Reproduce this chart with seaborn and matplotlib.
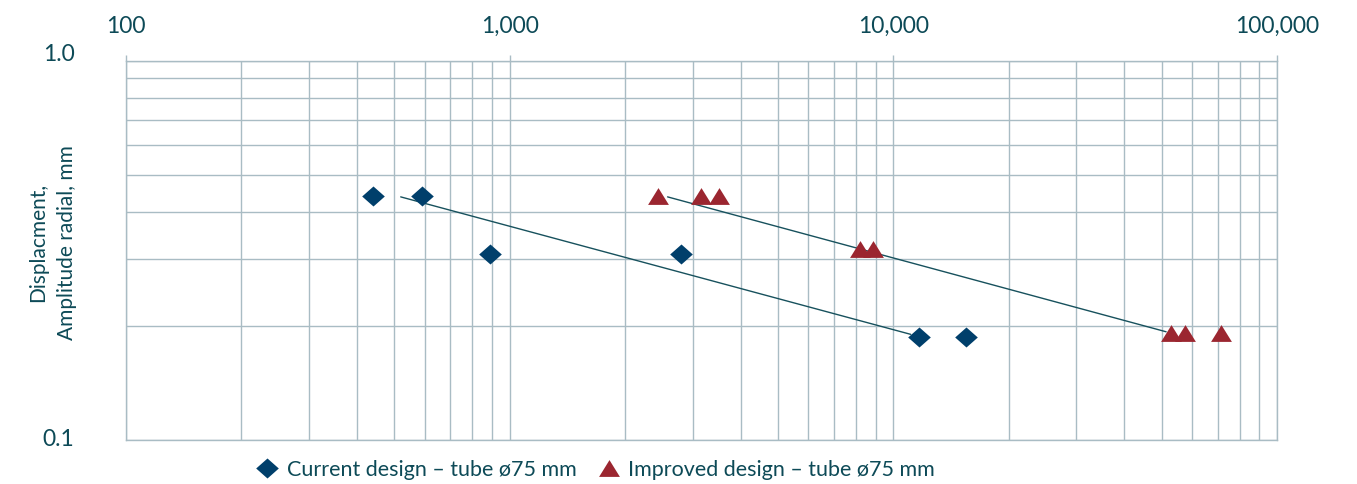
import numpy as np
import pandas as pd
import matplotlib
matplotlib.use("Agg")
import matplotlib.pyplot as plt
import seaborn as sns
from matplotlib.ticker import FixedLocator, FixedFormatter, LogLocator, NullFormatter
from matplotlib.lines import Line2D

# ---- data ----
current_cycles = [440, 590, 890, 2800, 11700, 15500]
current_disp = [0.44, 0.44, 0.31, 0.31, 0.187, 0.187]
improved_cycles = [2430, 3150, 3520, 8170, 8850, 53000, 57600, 71500]
improved_disp = [0.44, 0.44, 0.44, 0.32, 0.32, 0.191, 0.191, 0.191]
current_fit_x = [520, 11100]
current_fit_y = [0.438, 0.190]
improved_fit_x = [2580, 51400]
improved_fit_y = [0.438, 0.193]
x_ticks = [100, 1000, 10000, 100000]
x_tick_labels = ["100", "1,000", "10,000", "100,000"]
y_ticks = [0.1, 1.0]
y_tick_labels = ["0.1", "1.0"]
label_current = "Current design \u2013 tube \u00f875 mm"
label_improved = "Improved design \u2013 tube \u00f875 mm"
y_label = "Displacment,\nAmplitude radial, mm"

# ---- style ----
sns.set_theme(style="white")
plt.rcParams["font.family"] = ["Lato", "DejaVu Sans"]
text_col = "#0d4a57"
grid_col = "#a9bcc4"
blue = "#003f6b"
red = "#9b2630"
line_col = "#17515d"

diamond = [(0, 1), (1.13, 0), (0, -1), (-1.13, 0), (0, 1)]
triangle = [(-1.24, -1), (1.24, -1), (0, 1), (-1.24, -1)]

fig = plt.figure(figsize=(13.57, 4.84), dpi=100)
ax = fig.add_axes([126 / 1357, 1 - 440 / 484, (1277 - 126) / 1357, (440 - 61) / 484])

df_c = pd.DataFrame({"x": current_cycles, "y": current_disp})
df_i = pd.DataFrame({"x": improved_cycles, "y": improved_disp})

sns.lineplot(x=current_fit_x, y=current_fit_y, ax=ax, color=line_col, lw=1.0, zorder=3, estimator=None, sort=False)
sns.lineplot(x=improved_fit_x, y=improved_fit_y, ax=ax, color=line_col, lw=1.0, zorder=3, estimator=None, sort=False)
sns.scatterplot(data=df_c, x="x", y="y", ax=ax, marker=diamond, s=16.3 ** 2, color=blue, linewidth=0, zorder=4)
sns.scatterplot(data=df_i, x="x", y="y", ax=ax, marker=triangle, s=15 ** 2, color=red, linewidth=0, zorder=4)

ax.set_xscale("log")
ax.set_yscale("log")
ax.set_xlim(100, 100000)
ax.set_ylim(0.1, 1.0)

ax.xaxis.tick_top()
ax.xaxis.set_major_locator(FixedLocator(x_ticks))
ax.xaxis.set_major_formatter(FixedFormatter(x_tick_labels))
ax.xaxis.set_minor_locator(LogLocator(base=10, subs=np.arange(2, 10), numticks=20))
ax.xaxis.set_minor_formatter(NullFormatter())
ax.yaxis.set_major_locator(FixedLocator(y_ticks))
ax.yaxis.set_major_formatter(FixedFormatter(y_tick_labels))
ax.yaxis.set_minor_locator(LogLocator(base=10, subs=np.arange(2, 10), numticks=20))
ax.yaxis.set_minor_formatter(NullFormatter())

ax.tick_params(axis="x", which="major", top=True, bottom=False, length=4.5, width=1.0,
               color=grid_col, pad=13, labelsize=16.5, labelcolor=text_col, direction="out")
ax.tick_params(axis="x", which="minor", top=False, bottom=False, length=0)
ax.tick_params(axis="y", which="both", left=False, length=0, pad=37, labelsize=16.5, labelcolor=text_col)
for lbl, va in zip(ax.get_yticklabels(), ["center", "baseline"]):
    lbl.set_verticalalignment(va)

ax.grid(True, which="both", color=grid_col, lw=1.0)
ax.set_axisbelow(True)
for sp in ax.spines.values():
    sp.set_color(grid_col)
    sp.set_linewidth(1.0)

ax.set_xlabel("")
ax.set_ylabel(y_label, fontsize=15, color=text_col, linespacing=1.55)
ax.yaxis.set_label_coords(-0.043, 0.522)

h1 = Line2D([], [], marker=diamond, markersize=16.3, color=blue, lw=0, markeredgewidth=0)
h2 = Line2D([], [], marker=triangle, markersize=15, color=red, lw=0, markeredgewidth=0)
fig.legend([h1, h2], [label_current, label_improved], loc="center", bbox_to_anchor=(0.439, 0.029),
           ncol=2, frameon=False, fontsize=15.5, labelcolor=text_col, handletextpad=0.4,
           columnspacing=1.0, handlelength=1.0)

fig.savefig("out.png", dpi=100, facecolor="white")
